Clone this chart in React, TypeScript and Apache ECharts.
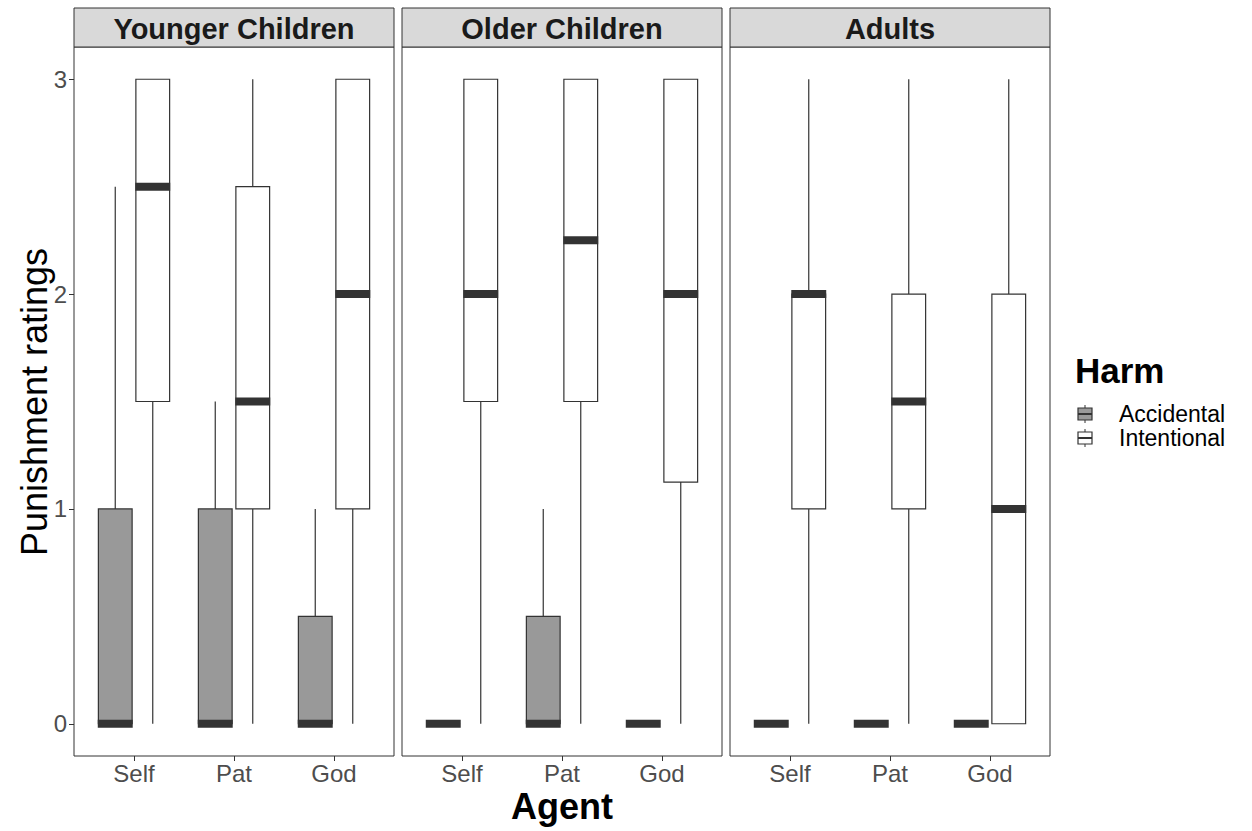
import React, { useEffect, useRef } from "react";
import * as echarts from "echarts";

const facets = ["Younger Children", "Older Children", "Adults"];
const agents = ["Self", "Pat", "God"];
const harms = ["Accidental", "Intentional"];
const yTicks = [0, 1, 2, 3];

// [low, q1, median, q3, high] per agent (Self, Pat, God)
const youngerAccidental = [[0, 0, 0, 1, 2.5], [0, 0, 0, 1, 1.5], [0, 0, 0, 0.5, 1]];
const youngerIntentional = [[0, 1.5, 2.5, 3, 3], [0, 1, 1.5, 2.5, 3], [0, 1, 2, 3, 3]];
const olderAccidental = [[0, 0, 0, 0, 0], [0, 0, 0, 0.5, 1], [0, 0, 0, 0, 0]];
const olderIntentional = [[0, 1.5, 2, 3, 3], [0, 1.5, 2.25, 3, 3], [0, 1.125, 2, 3, 3]];
const adultsAccidental = [[0, 0, 0, 0, 0], [0, 0, 0, 0, 0], [0, 0, 0, 0, 0]];
const adultsIntentional = [[0, 1, 2, 2, 3], [0, 1, 1.5, 2, 3], [0, 0, 1, 2, 3]];

const facetData = [
  [youngerAccidental, youngerIntentional],
  [olderAccidental, olderIntentional],
  [adultsAccidental, adultsIntentional],
];

const harmFills = ["#999999", "#ffffff"];
const FONT = "Liberation Sans, Arial, Helvetica, sans-serif";
const DODGE = 0.1875;
const BOX_W = 0.3375;

const panelLeft = [74, 402, 730];
const panelTop = 47;
const panelW = 320;
const panelH = 709;
const stripTop = 8;

export default function App() {
  const ref = useRef<HTMLDivElement>(null);
  useEffect(() => {
    if (!ref.current) return;
    const chart = echarts.init(ref.current, undefined, { renderer: "svg" });

    const grids = facets.map((_, i) => ({
      left: panelLeft[i],
      top: panelTop,
      width: panelW,
      height: panelH,
      show: true,
      borderColor: "#333333",
      borderWidth: 1,
      backgroundColor: "transparent",
    }));

    const xAxes = facets.map((_, i) => ({
      type: "value",
      gridIndex: i,
      position: "bottom",
      min: 0.4,
      max: 3.6,
      splitLine: { show: false },
      axisLine: { show: false, onZero: false },
      axisTick: { show: true, length: 5, customValues: [1, 2, 3], lineStyle: { color: "#333333" } },
      axisLabel: {
        customValues: [1, 2, 3],
        formatter: (v: number) => agents[Math.round(v) - 1] ?? "",
        fontSize: 24,
        color: "#4d4d4d",
        fontFamily: FONT,
        margin: 5,
      },
    }));

    const yAxes = facets.map((_, i) => ({
      type: "value",
      gridIndex: i,
      position: "left",
      min: -0.15,
      max: 3.15,
      splitLine: { show: false },
      axisLine: { show: false, onZero: false },
      axisTick: { show: i === 0, length: 5, customValues: yTicks, lineStyle: { color: "#333333" } },
      axisLabel: {
        show: i === 0,
        customValues: yTicks,
        fontSize: 24,
        color: "#4d4d4d",
        fontFamily: FONT,
        margin: 7,
      },
    }));

    const series: any[] = [];
    facets.forEach((_, fi) => {
      harms.forEach((h, hi) => {
        const rows = facetData[fi][hi].map((r, ai) => [ai + 1 + (hi === 0 ? -DODGE : DODGE), ...r]);
        series.push({
          type: "custom",
          name: h,
          xAxisIndex: fi,
          yAxisIndex: fi,
          data: rows,
          renderItem: (params: any, api: any) => {
            const x = api.value(0);
            const low = api.coord([x, api.value(1)]);
            const q1 = api.coord([x, api.value(2)]);
            const med = api.coord([x, api.value(3)]);
            const q3 = api.coord([x, api.value(4)]);
            const high = api.coord([x, api.value(5)]);
            const w = api.size([BOX_W, 0])[0];
            const cx = low[0];
            const stroke = { stroke: "#333333", lineWidth: 1.2 };
            return {
              type: "group",
              children: [
                { type: "line", shape: { x1: cx, y1: low[1], x2: cx, y2: q1[1] }, style: stroke },
                { type: "line", shape: { x1: cx, y1: q3[1], x2: cx, y2: high[1] }, style: stroke },
                {
                  type: "rect",
                  shape: { x: cx - w / 2, y: q3[1], width: w, height: q1[1] - q3[1] },
                  style: { fill: harmFills[hi], ...stroke },
                },
                {
                  type: "rect",
                  shape: { x: cx - w / 2 - 0.6, y: med[1] - 4, width: w + 1.2, height: 8 },
                  style: { fill: "#333333" },
                },
              ],
            };
          },
        });
      });
    });

    const graphics: any[] = [];
    facets.forEach((f, i) => {
      graphics.push({
        type: "rect",
        shape: { x: panelLeft[i], y: stripTop, width: panelW, height: panelTop - stripTop },
        style: { fill: "#d9d9d9", stroke: "#333333", lineWidth: 1 },
      });
      graphics.push({
        type: "text",
        x: panelLeft[i] + panelW / 2,
        y: (stripTop + panelTop) / 2 + 1,
        style: {
          text: f,
          fontSize: 29,
          fontWeight: "bold",
          fill: "#1a1a1a",
          fontFamily: FONT,
          align: "center",
          verticalAlign: "middle",
        },
      });
    });
    // axis titles
    graphics.push({
      type: "text",
      x: 562,
      y: 806,
      style: { text: "Agent", fontSize: 36, fontWeight: "bold", fill: "#000", fontFamily: FONT, align: "center", verticalAlign: "middle" },
    });
    graphics.push({
      type: "text",
      x: 34,
      y: 402,
      rotation: Math.PI / 2,
      style: { text: "Punishment ratings", fontSize: 36, fill: "#000", fontFamily: FONT, align: "center", verticalAlign: "middle" },
    });
    // legend
    graphics.push({
      type: "text",
      x: 1075,
      y: 370,
      style: { text: "Harm", fontSize: 35, fontWeight: "bold", fill: "#000", fontFamily: FONT, align: "left", verticalAlign: "middle" },
    });
    harms.forEach((h, i) => {
      const cy = 414 + i * 24;
      graphics.push({ type: "line", shape: { x1: 1085, y1: cy - 9, x2: 1085, y2: cy + 9 }, style: { stroke: "#333333", lineWidth: 1 } });
      graphics.push({ type: "rect", shape: { x: 1078, y: cy - 6, width: 14, height: 12 }, style: { fill: harmFills[i], stroke: "#333333", lineWidth: 1.2 } });
      graphics.push({ type: "line", shape: { x1: 1078, y1: cy, x2: 1092, y2: cy }, style: { stroke: "#333333", lineWidth: 2 } });
      graphics.push({
        type: "text",
        x: 1119,
        y: cy,
        style: { text: h, fontSize: 23, fill: "#000", fontFamily: FONT, align: "left", verticalAlign: "middle" },
      });
    });

    chart.setOption({
      animation: false,
      backgroundColor: "#ffffff",
      grid: grids,
      xAxis: xAxes,
      yAxis: yAxes,
      series,
      graphic: graphics,
    });
    return () => chart.dispose();
  }, []);
  return <div ref={ref} style={{ width: 1252, height: 831, position: "absolute", left: 0, top: 0 }} />;
}
